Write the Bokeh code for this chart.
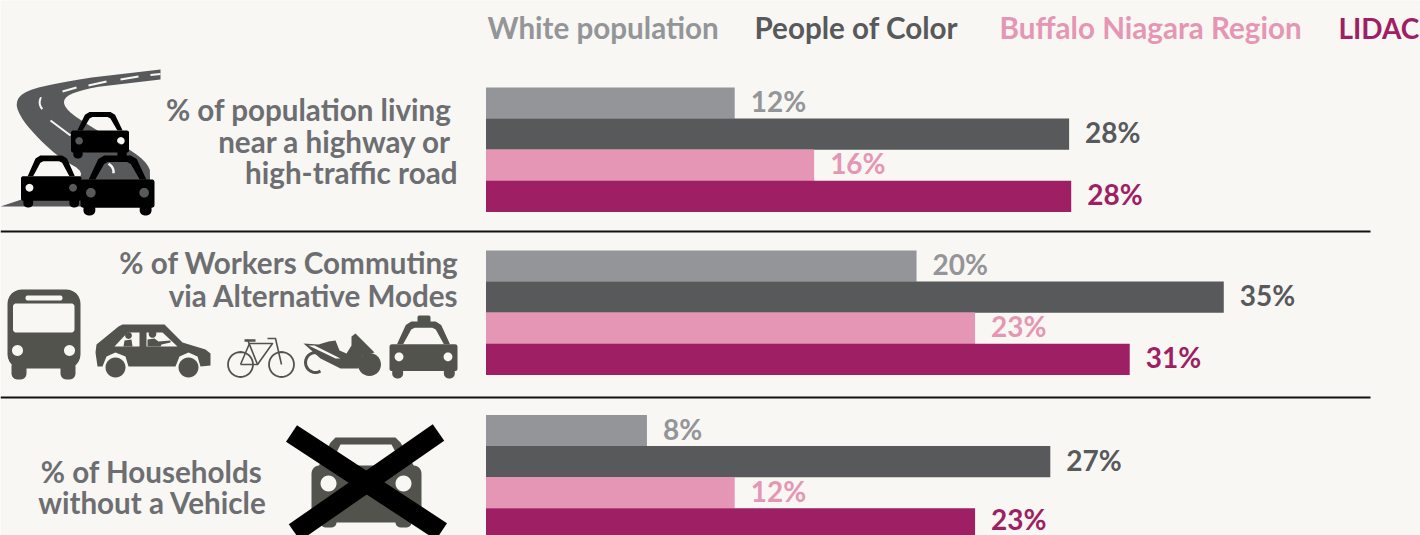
from bokeh.plotting import figure
from bokeh.models import Range1d
from bokeh.embed import file_html
from bokeh.resources import INLINE
from bokeh.core.properties import value
import math

series = ["White population", "People of Color", "Buffalo Niagara Region", "LIDAC"]
white = [11.9, 20.6, 7.7]
poc = [27.9, 35.3, 27.0]
region = [15.7, 23.4, 11.9]
lidac = [28.0, 30.8, 23.4]
white_labels = ["12%", "20%", "8%"]
poc_labels = ["28%", "35%", "27%"]
region_labels = ["16%", "23%", "12%"]
lidac_labels = ["28%", "31%", "23%"]

BG = "#f8f7f3"
C = ["#939598", "#58595b", "#e596b4", "#9e1f63"]
TXT = "#6d6e71"
ICON = "#53534e"
FONT = value("Lato")
PX = 20.9
X0 = 485.5

p = figure(width=1420, height=535, output_backend="svg", toolbar_location=None,
           x_range=Range1d(-X0 / PX, (1420 - X0) / PX), y_range=Range1d(535, 0),
           min_border=0, background_fill_color=BG, border_fill_color=BG, outline_line_color=None)
p.axis.visible = False
p.grid.visible = False
p.extra_x_ranges = {"px": Range1d(0, 1420)}

group_tops = [87, 250, 414.5]
pitch = 31.1
DY = -11
all_series = list(zip([white, poc, region, lidac], [white_labels, poc_labels, region_labels, lidac_labels]))
for s, (vals, labs) in enumerate(all_series):
    ys = [t + pitch * (s + .5) for t in group_tops]
    p.hbar(y=ys, left=0, right=vals, height=pitch + .2, fill_color=C[s], line_color=None)
for s, (vals, labs) in enumerate(all_series):
    ys = [t + pitch * (s + .5) for t in group_tops]
    # the last label sits right on the page's lower edge: keep its box inside
    text_y = [y + 9 + DY - (3 if y + 9 + DY > 518 else 0) for y in ys]
    p.text(x=[v + 16 / PX for v in vals], y=text_y, text=labs, text_color=C[s],
           text_font=FONT, text_font_style="bold", text_font_size="28px",
           text_align="left", text_baseline="alphabetic")

def T(x, y, s, color, align="left", size=29.6):
    p.text(x=[x], y=[y + DY], text=[s], text_color=color, text_font=FONT, text_font_style="bold",
           text_font_size=f"{size}px", text_align=align, text_baseline="alphabetic", x_range_name="px")

for x, s, c, size in zip([487, 754, 999, 1338], series, C, [29.6, 29.6, 29.6, 28]):
    T(x, 38, s, c, size=size)

T(451, 120, "% of population living", TXT, "right")
T(451, 152, "near a highway or", TXT, "right")
T(457, 183, "high-traffic road", TXT, "right")
T(458, 273, "% of Workers Commuting", TXT, "right")
T(458, 306, "via Alternative Modes", TXT, "right")
T(151, 482, "% of Households", TXT, "center")
T(152, 513, "without a Vehicle", TXT, "center")

for y in [231, 397]:
    p.line([0, 1370], [y, y], line_color="#111111", line_width=2, x_range_name="px")

def smooth(pts, n=3, closed=True):
    for _ in range(n):
        out = []
        m = len(pts)
        for i in range(m if closed else m - 1):
            a, b = pts[i], pts[(i + 1) % m]
            out.append((.75 * a[0] + .25 * b[0], .75 * a[1] + .25 * b[1]))
            out.append((.25 * a[0] + .75 * b[0], .25 * a[1] + .75 * b[1]))
        pts = out
    return pts

def poly(pts, color, holes=()):
    rings = [pts] + list(holes)
    p.multi_polygons(xs=[[[[q[0] for q in r] for r in rings]]], ys=[[[[q[1] for q in r] for r in rings]]],
                     fill_color=color, line_color=None, x_range_name="px")

def circ(cx, cy, r, n=28):
    return [(cx + r * math.cos(2 * math.pi * i / n), cy + r * math.sin(2 * math.pi * i / n)) for i in range(n)]

def rrect(x0, y0, x1, y1, r):
    out = []
    for cx, cy, a in [(x1 - r, y0 + r, -90), (x1 - r, y1 - r, 0), (x0 + r, y1 - r, 90), (x0 + r, y0 + r, 180)]:
        for k in range(7):
            t = math.radians(a + k * 15)
            out.append((cx + r * math.cos(t), cy + r * math.sin(t)))
    return out

def stroke(x, y, color, w, cap="butt"):
    p.line(x, y, line_color=color, line_width=w, line_cap=cap, line_join="round", x_range_name="px")

def front_car(x0, y0, x1, y1, color):
    w, h = x1 - x0, y1 - y0
    X = lambda u: x0 + u * w
    Y = lambda v: y0 + v * h
    mid = .40
    cabin = [(X(.05), Y(mid)), (X(.11), Y(mid)), (X(.24), Y(.06)), (X(.32), Y(0)), (X(.68), Y(0)), (X(.76), Y(.06)),
             (X(.89), Y(mid)), (X(.95), Y(mid))]
    glass = [(X(.2), Y(mid)), (X(.32), Y(.14)), (X(.37), Y(.11)), (X(.63), Y(.11)), (X(.68), Y(.14)), (X(.8), Y(mid))]
    poly(cabin, color, [glass])
    r = .035 * w
    body = rrect(X(0), Y(mid), X(1), Y(.87), r)
    poly(body, color, [circ(X(.14), Y(.62), .065 * w), circ(X(.86), Y(.62), .065 * w)])
    poly(rrect(X(.04), Y(.8), X(.2), Y(1), .07 * w), color)
    poly(rrect(X(.8), Y(.8), X(.96), Y(1), .07 * w), color)

# road
road_outer = [(160, 69), (110, 74), (60, 82), (25, 90), (14, 102), (22, 120), (40, 140), (60, 158), (85, 172),
              (70, 185), (30, 196), (0, 206), (90, 206), (150, 205), (152, 175), (145, 160), (120, 143), (90, 126),
              (66, 110), (62, 98), (78, 90), (110, 84), (160, 79)]
poly(road_outer[:1] + smooth(road_outer[1:10], 2, closed=False) + road_outer[10:14] +
     smooth(road_outer[14:22], 2, closed=False) + road_outer[22:], "#58595b")
stroke([160, 150], [73.5, 74.5], BG, 2)
stroke([138, 120], [76, 79], BG, 2)
stroke([106, 88], [81, 85], BG, 2)
stroke([76, 62], [87, 91], BG, 2)
stroke(*zip(*smooth([(42, 93), (38, 103), (44, 112)], 2, closed=False)), BG, 2)
stroke([50, 70], [120, 135], BG, 2)
stroke(*zip(*smooth([(105, 161), (113, 167), (113, 176)], 2, closed=False)), BG, 2.5)

front_car(70.5, 111.5, 128.5, 158, "#000000")
front_car(20.5, 155, 81, 207, "#000000")
front_car(80, 155, 154, 215, "#000000")

# bus
poly(rrect(7, 289, 80, 368, 14), ICON,
     [rrect(12.5, 303, 74, 332, 3), rrect(25, 295, 62, 300, 2.2), circ(17, 350, 5.5), circ(69, 350, 5.5)])
poly(rrect(11, 360, 26, 379, 6), ICON)
poly(rrect(60, 360, 75, 379, 6), ICON)

# side car with two passengers
side = [(95, 352), (96, 344), (118, 326), (122, 324), (164, 324), (182, 342), (205, 349), (210, 353), (210, 365), (200, 366),
        (197, 356), (188, 352), (179, 356), (175, 366), (128, 366), (125, 356), (115, 352), (106, 356), (102, 366),
        (97, 366)]
poly(side, ICON, [[(114, 346), (127, 332), (139, 332), (139, 346)], [(146, 332), (162, 332), (177, 346), (146, 346)]])
poly(circ(115, 367, 10), ICON)
poly(circ(188, 367, 10), ICON)
poly(circ(128, 335, 3.4), ICON)
poly([(123, 346), (124, 340), (131, 339), (132, 346)], ICON)
poly(circ(152, 333.5, 3.8), ICON)
poly([(147, 346), (147, 339), (154, 338), (158, 341), (170, 340), (170, 342), (161, 344), (160, 346)], ICON)

# bicycle
for cx in (240, 281):
    stroke(*zip(*(circ(cx, 364, 12.5) + circ(cx, 364, 12.5)[:1])), ICON, 1.8)
stroke([240, 249, 272, 257, 240], [364, 343, 343, 364, 364], ICON, 1.6)
stroke([247, 257], [339, 364], ICON, 1.6)
stroke([267, 275, 281], [338, 338, 364], ICON, 1.6)
stroke([244, 255], [340, 340], ICON, 2.4)

# scooter
poly(circ(369, 364, 11.5), ICON)
poly([(303, 343), (318, 344), (328, 341), (335, 340), (339, 350), (346, 353), (351, 345), (351, 336), (355, 333),
      (374, 352), (362, 355), (358, 368), (340, 368), (320, 358)], ICON, [[(308, 345), (314, 345), (340, 358), (335, 358)]])
arc = [(315 + 10 * math.cos(math.radians(a)), 362 + 10 * math.sin(math.radians(a))) for a in range(60, 290, 15)]
stroke([q[0] for q in arc], [q[1] for q in arc], ICON, 3)

# taxi
poly(rrect(417, 315, 430, 324, 2), ICON)
front_car(389, 321, 457, 378, ICON)

# car without the households
poly(rrect(311, 465, 421, 522, 8), ICON, [circ(328, 483, 8), circ(403, 483, 8)])
poly([(316, 470), (330, 442), (335, 437), (395, 437), (400, 442), (416, 470), (405, 470), (391, 444), (340, 444),
      (327, 470)], ICON)
poly(rrect(320, 515, 336, 527, 5), ICON)
poly(rrect(395, 515, 411, 527, 5), ICON)
stroke([291, 441], [433, 531], "#000000", 20)
stroke([438, 294], [432, 532], "#000000", 20)

open("out.html", "w").write(file_html(p, INLINE))
